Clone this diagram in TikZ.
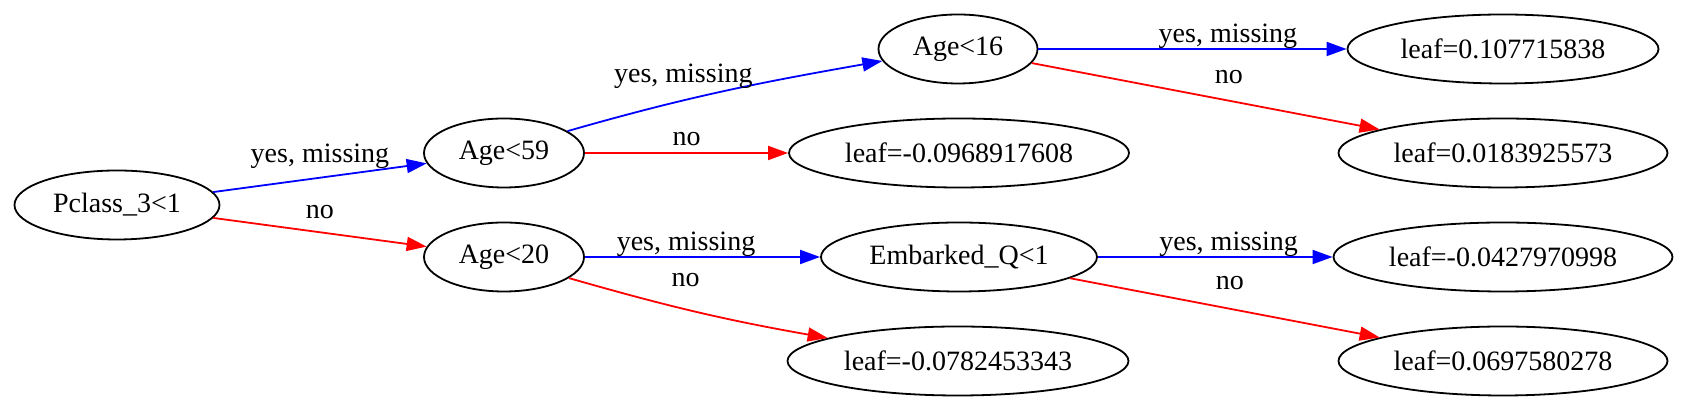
\documentclass[tikz,border=0pt]{standalone}
\usepackage{fontspec}
\setmainfont{Liberation Serif}
\usetikzlibrary{shapes,arrows.meta}
\tikzstyle{line} = [draw, line width=0.9pt, -{Triangle[length=10pt,width=7pt]}]
\tikzstyle{line_yes} = [line, draw=blue]
\tikzstyle{line_no} = [line, draw=red]
\tikzstyle{split} = [ellipse, draw, line width=0.9pt, inner sep=0pt, minimum height=34.5pt, minimum width=80pt]
\tikzstyle{leaf} = [ellipse, draw, line width=0.9pt, inner sep=0pt, minimum height=34.5pt, minimum width=165pt]

\begin{document}
\begin{tikzpicture}[every node/.style={font=\fontsize{14}{16}\selectfont}]
		\node [split, minimum width=102.5pt] (pclass) {Pclass\_3<1};
		\useasboundingbox ([shift={(-58.5pt,102.5pt)}]pclass.center) rectangle ([shift={(785.5pt,-102.5pt)}]pclass.center);
		
		\node [split, right of = pclass, node distance = 193.5pt, yshift = 26pt] (age59) {Age<59};
		\node [split, right of = pclass, node distance = 193.5pt, yshift = -26pt] (age20) {Age<20};
		
		\node [split, right of = age59, node distance = 227pt, yshift = 52pt, minimum width=79.5pt] (age16) {Age<16};
		\node [leaf, right of = age59, node distance = 227.5pt, minimum width=170pt] (leaf_a) {leaf=-0.0968917608};
		\node [split, right of = age20, node distance = 227.5pt, minimum width=138pt] (embq) {Embarked\_Q<1};
		\node [leaf, right of = age20, node distance = 227pt, yshift = -52pt, minimum width=170.5pt] (leaf_b) {leaf=-0.0782453343};
		
		\node [leaf, right of = age16, node distance = 272.5pt, minimum width=155.5pt] (leaf_c) {leaf=0.107715838};
		\node [leaf, right of = leaf_a, node distance = 272pt, minimum width=164.5pt] (leaf_d) {leaf=0.0183925573};
		\node [leaf, right of = embq, node distance = 272pt, minimum width=169.5pt] (leaf_e) {leaf=-0.0427970998};
		\node [leaf, right of = leaf_b, node distance = 272.5pt, minimum width=164.5pt] (leaf_f) {leaf=0.0697580278};
		
		% root
		\path [line_yes] (pclass) to node [pos=0.5, yshift=10.6pt] (t_pc_yes) {yes, missing} (age59);
		\path [line_no] (pclass) to node [pos=0.5, yshift=10.2pt] (t_pc_no) {no} (age20);
		
		% Age<59
		\path [line_yes] (age59.19) to [out=16, in=190] node [pos=0.36, yshift=11.9pt] (t_a59_yes) {yes, missing} (age16.189);
		\path [line_no] (age59) to node [pos=0.5, yshift=7pt] (t_a59_no) {no} (leaf_a);
		
		% Age<20
		\path [line_yes] (age20) to node [pos=0.43, yshift=6.5pt] (t_a20_yes) {yes, missing} (embq);
		\path [line_no] (age20.-18) to [out=-16, in=170] node [pos=0.45, yshift=14.6pt] (t_a20_no) {no} (leaf_b.170);
		
		% Age<16
		\path [line_yes] (age16) to node [pos=0.615, yshift=6.4pt] (t_a16_yes) {yes, missing} (leaf_c);
		\path [line_no] (age16) to node [pos=0.567, yshift=12pt] (t_a16_no) {no} (leaf_d);
		
		% Embarked_Q<1
		\path [line_yes] (embq) to node [pos=0.557, yshift=6.5pt] (t_emb_yes) {yes, missing} (leaf_e);
		\path [line_no] (embq) to node [pos=0.516, yshift=13pt] (t_emb_no) {no} (leaf_f);
\end{tikzpicture}
\end{document}
